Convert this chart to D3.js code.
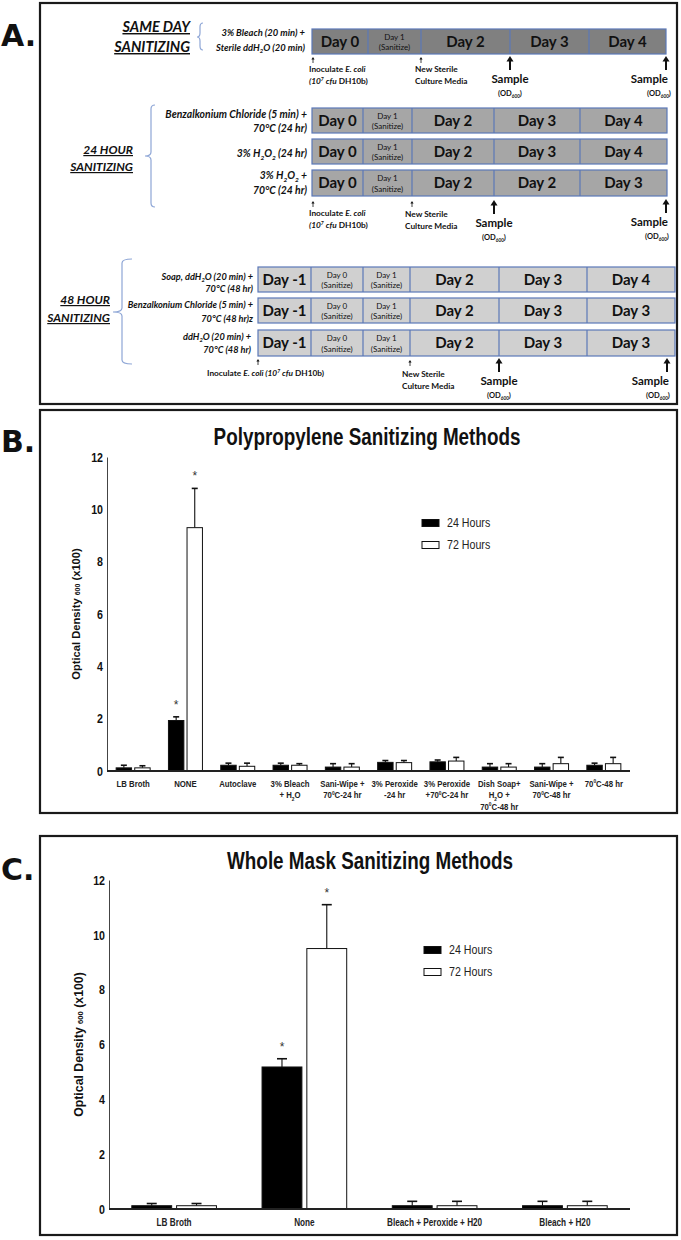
<!DOCTYPE html>
<html><head><meta charset="utf-8">
<script src="https://cdn.jsdelivr.net/npm/d3@7"></script>
<style>body{margin:0;background:#fff}svg{display:block}</style>
</head><body><svg id="c" width="681" height="1240"></svg>
<script>
// ================= DATA =================
// Panel A – protocol timelines
const sameDayTitle = ["SAME DAY", "SANITIZING"];
const sameDayTreatments = [["3% Bleach (20 min) +", "Sterile ddH_2O (20 min)"]];
const sameDayDays = [[["Day 0"], ["Day 1", "(Sanitize)"], ["Day 2"], ["Day 3"], ["Day 4"]]];

const hr24Title = ["24 HOUR", "SANITIZING"];
const hr24Treatments = [["Benzalkonium Chloride (5 min) +", "70°C (24 hr)"], ["3% H_2O_2 (24 hr)"], ["3% H_2O_2 +", "70°C (24 hr)"]];
const hr24Days = [
  [["Day 0"], ["Day 1", "(Sanitize)"], ["Day 2"], ["Day 3"], ["Day 4"]],
  [["Day 0"], ["Day 1", "(Sanitize)"], ["Day 2"], ["Day 3"], ["Day 4"]],
  [["Day 0"], ["Day 1", "(Sanitize)"], ["Day 2"], ["Day 2"], ["Day 3"]]];

const hr48Title = ["48 HOUR", "SANITIZING"];
const hr48Treatments = [["Soap, ddH_2O (20 min) +", "70°C (48 hr)"], ["Benzalkonium Chloride (5 min) +", "70°C (48 hr)z"], ["ddH_2O (20 min) +", "70°C (48 hr)"]];
const hr48Days = [
  [["Day -1"], ["Day 0", "(Sanitize)"], ["Day 1", "(Sanitize)"], ["Day 2"], ["Day 3"], ["Day 4"]],
  [["Day -1"], ["Day 0", "(Sanitize)"], ["Day 1", "(Sanitize)"], ["Day 2"], ["Day 3"], ["Day 3"]],
  [["Day -1"], ["Day 0", "(Sanitize)"], ["Day 1", "(Sanitize)"], ["Day 2"], ["Day 3"], ["Day 3"]]];

const inoculateLines = ["Inoculate *E. coli*", "*(10^7 cfu* DH10b)"];
const inoculateOneLine = ["Inoculate *E. coli (10^7 cfu* DH10b)"];
const mediaLines = ["New Sterile", "Culture Media"];
const sampleLines = ["Sample", "(OD_{600})"];

// Panel B – Polypropylene
const series = ["24 Hours", "72 Hours"];
const yTicks = [0, 2, 4, 6, 8, 10, 12];
const bTitle = "Polypropylene Sanitizing Methods";
const bCategories = ["LB Broth", "NONE", "Autoclave", "3% Bleach + H2O", "Sani-Wipe + 70C-24 hr", "3% Peroxide -24 hr",
  "3% Peroxide +70C-24 hr", "Dish Soap+ H2O + 70C-48 hr", "Sani-Wipe + 70C-48 hr", "70C-48 hr"];
const bTickLabels = [["LB Broth"], ["NONE"], ["Autoclave"], ["3% Bleach", "+ H_2O"], ["Sani-Wipe +", "70^0C-24 hr"],
  ["3% Peroxide", "-24 hr"], ["3% Peroxide", "+70^0C-24 hr"], ["Dish Soap+", "H_2O +", "70^0C-48 hr"], ["Sani-Wipe +", "70^0C-48 hr"], ["70^0C-48 hr"]];
const b24 = [0.12, 1.93, 0.22, 0.22, 0.15, 0.33, 0.35, 0.15, 0.15, 0.22];
const b24err = [0.10, 0.14, 0.08, 0.08, 0.13, 0.07, 0.07, 0.13, 0.13, 0.08];
const b72 = [0.12, 9.30, 0.18, 0.22, 0.15, 0.32, 0.38, 0.15, 0.28, 0.28];
const b72err = [0.08, 1.50, 0.12, 0.06, 0.13, 0.08, 0.14, 0.13, 0.24, 0.24];
const b24sig = [0, 1, 0, 0, 0, 0, 0, 0, 0, 0];
const b72sig = [0, 1, 0, 0, 0, 0, 0, 0, 0, 0];

// Panel C – Whole mask
const cTitle = "Whole Mask Sanitizing Methods";
const cCategories = ["LB Broth", "None", "Bleach + Peroxide + H20", "Bleach + H20"];
const cTickLabels = [["LB Broth"], ["None"], ["Bleach + Peroxide + H20"], ["Bleach + H20"]];
const c24 = [0.12, 5.18, 0.12, 0.12];
const c24err = [0.08, 0.30, 0.16, 0.16];
const c72 = [0.12, 9.50, 0.12, 0.12];
const c72err = [0.08, 1.60, 0.16, 0.16];
const c24sig = [0, 1, 0, 0];
const c72sig = [0, 1, 0, 0];

// ================= DRAW =================
const LATO = "Lato, 'Open Sans', sans-serif";
const ARIAL = "'Liberation Sans', Arial, sans-serif";
const NARROW_K = 0.82;
const svg = d3.select('#c');
svg.append('rect').attr('width', 681).attr('height', 1240).attr('fill', '#fff');

function narrow(sel) {
  sel.each(function () {
    const x = +(this.getAttribute('x') || 0);
    this.setAttribute('transform', `translate(${x * (1 - NARROW_K)},0) scale(${NARROW_K},1)`);
  });
  return sel;
}

function rich(text, str, size, baseItalic) {
  let tog = false, pend = 0, buf = '';
  function emit(t, kind) {
    if (!t) return;
    const ts = text.append('tspan').text(t).attr('font-style', (baseItalic !== tog) ? 'italic' : 'normal');
    let dy = 0;
    if (kind === 'sub') { ts.attr('font-size', size * 0.62); dy = size * 0.25; }
    else if (kind === 'sup') { ts.attr('font-size', size * 0.62); dy = -size * 0.38; }
    const d = dy - pend;
    if (d) ts.attr('dy', d);
    pend = dy;
  }
  for (let i = 0; i < str.length; i++) {
    const c = str[i];
    if (c === '*') { emit(buf); buf = ''; tog = !tog; }
    else if (c === '_' || c === '^') {
      emit(buf); buf = '';
      let s;
      if (str[i + 1] === '{') { const j = str.indexOf('}', i); s = str.slice(i + 2, j); i = j; }
      else { s = str[i + 1]; i++; }
      emit(s, c === '_' ? 'sub' : 'sup');
    } else buf += c;
  }
  emit(buf);
  return text;
}

function txt(g, x, y, str, o) {
  const t = g.append('text').attr('x', x).attr('y', y)
    .attr('font-family', o.family || LATO).attr('font-size', o.size)
    .attr('font-weight', o.weight || 'bold').attr('text-anchor', o.anchor || 'start')
    .attr('fill', o.fill || '#111');
  if (o.underline) t.attr('text-decoration', 'underline');
  return rich(t, str, o.size, !!o.italic);
}

// panel frames
function frame(x, y, w, h) {
  svg.append('rect').attr('x', x).attr('y', y).attr('width', w).attr('height', h)
    .attr('fill', 'none').attr('stroke', '#1a1a1a').attr('stroke-width', 2.2);
}
frame(40, 3, 637, 401);
frame(40, 410, 637, 403);
frame(40, 836, 637, 399);
const panelLetter = (l, y) => svg.append('text').attr('x', 1).attr('y', y).text(l)
  .attr('font-family', "'DejaVu Sans',sans-serif").attr('font-weight', 'bold').attr('font-size', 30).attr('fill', '#111');
panelLetter('A.', 46); panelLetter('B.', 452); panelLetter('C.', 880);

// ---------- Panel A ----------
const A = svg.append('g');
const BLUE = '#5b78b8', BRACE = '#8ea6d6';

function brace(x, y1, y2, ym, hook, tip) {
  const p = d3.path();
  p.moveTo(x + hook, y1); p.quadraticCurveTo(x, y1, x, y1 + 4);
  p.lineTo(x, ym - 4); p.quadraticCurveTo(x, ym, x - tip, ym);
  p.quadraticCurveTo(x, ym, x, ym + 4);
  p.lineTo(x, y2 - 4); p.quadraticCurveTo(x, y2, x + hook, y2);
  A.append('path').attr('d', p.toString()).attr('fill', 'none').attr('stroke', BRACE).attr('stroke-width', 1.2);
}

function timeline(days, bounds, rows, fill, fs) {
  rows.forEach((r, ri) => {
    const [y0, y1] = r, yc = (y0 + y1) / 2;
    A.append('rect').attr('x', bounds[0]).attr('y', y0).attr('width', bounds[bounds.length - 1] - bounds[0]).attr('height', y1 - y0)
      .attr('fill', fill).attr('stroke', BLUE).attr('stroke-width', 1.2);
    days[ri].forEach((d, k) => {
      const xa = bounds[k], xb = bounds[k + 1], xc = (xa + xb) / 2;
      if (k > 0) A.append('line').attr('x1', xa).attr('x2', xa).attr('y1', y0).attr('y2', y1).attr('stroke', BLUE).attr('stroke-width', 1.2);
      if (d.length === 1) txt(A, xc, yc + fs * 0.36, d[0], { size: fs, anchor: 'middle' });
      else {
        txt(A, xc, yc - 2, d[0], { size: 8, anchor: 'middle', weight: 'normal' });
        txt(A, xc, yc + 8.5, d[1], { size: 8, anchor: 'middle', weight: 'normal' });
      }
    });
  });
}

function smallArrow(x, y) {
  A.append('line').attr('x1', x).attr('x2', x).attr('y1', y + 1.5).attr('y2', y + 6).attr('stroke', '#111').attr('stroke-width', 0.8);
  A.append('path').attr('d', `M${x - 1.6},${y + 2.4}L${x},${y}L${x + 1.6},${y + 2.4}Z`).attr('fill', '#111');
}
function bigArrow(x, y) {
  A.append('line').attr('x1', x).attr('x2', x).attr('y1', y + 4).attr('y2', y + 14).attr('stroke', '#111').attr('stroke-width', 2);
  A.append('path').attr('d', `M${x - 3.5},${y + 5.5}L${x},${y}L${x + 3.5},${y + 5.5}Z`).attr('fill', '#111');
}
function sample(x, y, anchor, odx) {
  bigArrow(x, y);
  txt(A, anchor === 'end' ? x + 2 : x, y + 27, sampleLines[0], { size: 11.5, anchor: anchor });
  txt(A, odx, y + 40, sampleLines[1], { size: 7.5, anchor: 'middle' });
}
function treat(lines, xr, ys, fs) {
  lines.forEach((l, i) => txt(A, xr, ys[i], l, { size: fs, anchor: 'end', italic: true }));
}

// Same day
txt(A, 190, 32, sameDayTitle[0], { size: 14.5, anchor: 'end', italic: true, underline: true });
txt(A, 190, 52, sameDayTitle[1], { size: 14.5, anchor: 'end', italic: true, underline: true });
brace(200, 23, 50, 37, 3, 3);
treat(sameDayTreatments[0], 305, [36, 51], 9.4);
timeline(sameDayDays, [312, 368, 421, 510, 589, 666], [[29, 54]], '#808080', 15);
smallArrow(313, 57);
txt(A, 309, 72, inoculateLines[0], { size: 8.3 });
txt(A, 309, 84, inoculateLines[1], { size: 8.3 });
smallArrow(421, 57);
txt(A, 415, 72, mediaLines[0], { size: 8.3 });
txt(A, 415, 84, mediaLines[1], { size: 8.3 });
sample(510, 56, 'middle', 510);
sample(666, 56, 'end', 659);

// 24 hour
txt(A, 133, 154, hr24Title[0], { size: 12, anchor: 'end', italic: true, underline: true });
txt(A, 133, 171, hr24Title[1], { size: 12, anchor: 'end', italic: true, underline: true });
brace(151, 105, 207, 156, 4, 6);
treat(hr24Treatments[0], 307, [118, 132], 10.4);
treat(hr24Treatments[1], 307, [157], 10.4);
treat(hr24Treatments[2], 307, [179, 194], 10.4);
timeline(hr24Days, [312, 363, 412, 494, 580, 667], [[108, 133], [139, 164], [170, 196]], '#a6a6a6', 15);
smallArrow(313, 201);
txt(A, 309, 216, inoculateLines[0], { size: 8.3 });
txt(A, 309, 228, inoculateLines[1], { size: 8.3 });
smallArrow(412, 201);
txt(A, 405, 217, mediaLines[0], { size: 8.3 });
txt(A, 405, 229, mediaLines[1], { size: 8.3 });
sample(494, 200, 'middle', 494);
sample(666, 199, 'end', 657);

// 48 hour
txt(A, 110, 304, hr48Title[0], { size: 12, anchor: 'end', italic: true, underline: true });
txt(A, 110, 322, hr48Title[1], { size: 12, anchor: 'end', italic: true, underline: true });
brace(122, 259, 364, 312, 10, 9);
treat(hr48Treatments[0], 253, [280, 292], 9.2);
treat(hr48Treatments[1], 253, [308, 322], 9.2);
treat(hr48Treatments[2], 251, [340, 353], 9.2);
timeline(hr48Days, [258, 311, 363, 410, 499, 587, 675], [[267, 292], [298, 323], [330, 356]], '#d0d0d0', 15);
smallArrow(258, 359);
txt(A, 207, 376, inoculateOneLine[0], { size: 8.3 });
smallArrow(410, 360);
txt(A, 402, 377, mediaLines[0], { size: 8.3 });
txt(A, 402, 389, mediaLines[1], { size: 8.3 });
sample(499, 358, 'middle', 499);
sample(667, 358, 'end', 658);

// ---------- Bar charts ----------
function barChart(o) {
  const g = svg.append('g');
  const x = d3.scaleBand().domain(o.cats).range([o.x0, o.x1]).paddingInner(0.35).paddingOuter(0.175);
  const xs = d3.scaleBand().domain(series).range([0, x.bandwidth()]).paddingInner(o.inner);
  const y = d3.scaleLinear().domain([0, 12]).range([o.yBase, o.yTop]);

  narrow(g.append('text').attr('x', o.titleX).attr('y', o.titleY).attr('text-anchor', 'middle')
    .attr('font-family', ARIAL).attr('font-weight', 'bold').attr('font-size', 23).attr('fill', '#111').text(o.title));

  const ya = g.append('g').attr('transform', `translate(${o.x0},0)`)
    .call(d3.axisLeft(y).tickValues(yTicks).tickSize(0).tickPadding(4).tickFormat(d3.format('d')));
  ya.select('.domain').attr('stroke', '#444').attr('stroke-width', 1);
  narrow(ya.selectAll('text').attr('font-family', ARIAL).attr('font-weight', 'bold').attr('font-size', 13).attr('fill', '#111'));

  const yl = g.append('text').attr('transform', `translate(${o.ylabX},${(o.yBase + o.yTop) / 2}) rotate(-90)`)
    .attr('text-anchor', 'middle').attr('font-family', ARIAL).attr('font-weight', 'bold').attr('font-size', o.ylabFs).attr('fill', '#111');
  yl.append('tspan').text('Optical Density ');
  yl.append('tspan').attr('font-size', o.ylabFs * 0.62).text('600');
  yl.append('tspan').text(' (x100)');

  const data = o.cats.flatMap((c, i) => [
    { c, s: series[0], v: o.v24[i], e: o.e24[i], sig: o.sig24[i] },
    { c, s: series[1], v: o.v72[i], e: o.e72[i], sig: o.sig72[i] }]);
  const cx = d => x(d.c) + xs(d.s) + xs.bandwidth() / 2;

  g.selectAll('line.err').data(data).join('line').attr('class', 'err')
    .attr('x1', cx).attr('x2', cx).attr('y1', d => y(d.v)).attr('y2', d => y(d.v + d.e))
    .attr('stroke', '#111').attr('stroke-width', 1.1);
  g.selectAll('line.cap').data(data).join('line').attr('class', 'cap')
    .attr('x1', d => cx(d) - o.cap / 2).attr('x2', d => cx(d) + o.cap / 2)
    .attr('y1', d => y(d.v + d.e)).attr('y2', d => y(d.v + d.e))
    .attr('stroke', '#111').attr('stroke-width', 1.6);
  g.selectAll('rect.bar').data(data).join('rect').attr('class', 'bar')
    .attr('x', d => x(d.c) + xs(d.s)).attr('width', xs.bandwidth())
    .attr('y', d => y(d.v)).attr('height', d => y(0) - y(d.v))
    .attr('fill', d => d.s === series[0] ? '#000' : '#fff').attr('stroke', '#111').attr('stroke-width', 1);
  g.selectAll('text.sig').data(data.filter(d => d.sig)).join('text').attr('class', 'sig')
    .attr('x', cx).attr('y', d => y(d.v + d.e) - 8).attr('text-anchor', 'middle')
    .attr('font-family', ARIAL).attr('font-size', 12).attr('fill', '#333').text('*');

  g.append('line').attr('x1', o.x0).attr('x2', o.x1).attr('y1', y(0)).attr('y2', y(0))
    .attr('stroke', '#222').attr('stroke-width', 2);

  o.cats.forEach((c, i) => {
    o.labels[i].forEach((ln, k) => {
      const t = g.append('text').attr('x', x(c) + x.bandwidth() / 2).attr('y', o.labY + k * 11.5)
        .attr('text-anchor', 'middle').attr('font-family', ARIAL).attr('font-weight', 'bold')
        .attr('font-size', o.labFs).attr('fill', '#222');
      rich(t, ln, o.labFs, false);
      narrow(t);
    });
  });

  series.forEach((s, i) => {
    const ly = o.legY + i * 22;
    g.append('rect').attr('x', o.legX).attr('y', ly - 3.5).attr('width', 17).attr('height', 7)
      .attr('fill', i === 0 ? '#000' : '#fff').attr('stroke', '#111').attr('stroke-width', 1);
    narrow(g.append('text').attr('x', o.legX + 25).attr('y', ly).attr('dominant-baseline', 'central')
      .attr('font-family', ARIAL).attr('font-size', 13).attr('fill', '#222').text(s));
  });
}

barChart({ cats: bCategories, labels: bTickLabels, v24: b24, e24: b24err, v72: b72, e72: b72err, sig24: b24sig, sig72: b72sig,
  x0: 107, x1: 630, yBase: 771, yTop: 457, inner: 0.17, cap: 6, title: bTitle, titleX: 367, titleY: 445,
  ylabX: 80, ylabFs: 11.2, labY: 787, labFs: 9.5, legX: 422, legY: 523 });
barChart({ cats: cCategories, labels: cTickLabels, v24: c24, e24: c24err, v72: c72, e72: c72err, sig24: c24sig, sig72: c72sig,
  x0: 109, x1: 630, yBase: 1209, yTop: 880, inner: 0.11, cap: 10, title: cTitle, titleX: 370, titleY: 869,
  ylabX: 83, ylabFs: 12.3, labY: 1226, labFs: 10, legX: 424, legY: 950 });
</script></body></html>
